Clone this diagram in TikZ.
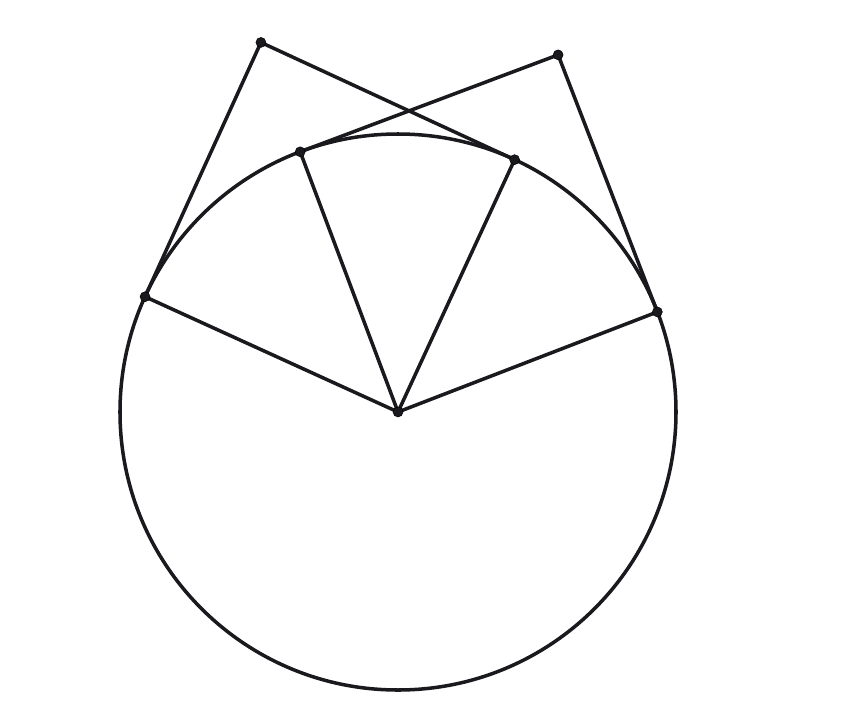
\documentclass[tikz,border=0pt]{standalone}
\usepackage{tikz}
\usetikzlibrary{calc}
\definecolor{inkgray}{RGB}{25,25,30}
\tikzset{
  segment/.style={draw=inkgray, line width=3pt, line cap=round, line join=round},
  dot/.style={fill=inkgray}
}
\begin{document}
\begin{tikzpicture}[x=0.03cm, y=0.03cm]
\useasboundingbox (-398,-304) rectangle (448,412);
% circle and its centre
\coordinate (O) at (0,0);
\draw[segment] (O) circle (278);
% points of tangency
\coordinate (A) at (155.5:278);
\coordinate (B) at (110.6:278);
\coordinate (C) at (65.2:278);
\coordinate (D) at (21.1:278);
% outer points where the tangents meet
\coordinate (E) at (110.35:394.2);
\coordinate (F) at (65.85:391.4);
% radii
\foreach \p in {A,B,C,D}
  \draw[segment] (O) -- (\p);
% tangent pairs
\draw[segment] (A) -- (E) -- (C);
\draw[segment] (B) -- (F) -- (D);
\foreach \p in {O,A,B,C,D,E,F}
  \filldraw[dot] (\p) circle (5);
\end{tikzpicture}
\end{document}
